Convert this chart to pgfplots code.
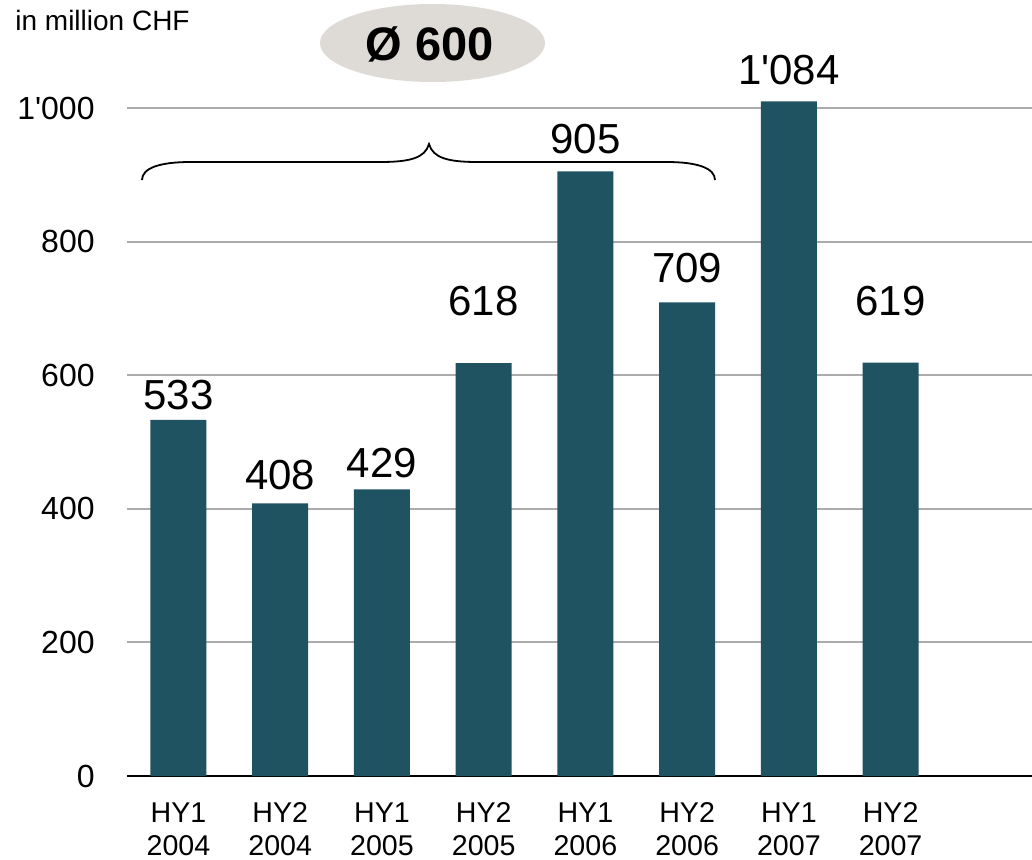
\documentclass[border=0pt]{standalone}
\usepackage{fontspec}
\setmainfont{Liberation Sans}[Ligatures=TeXOff]
\usepackage{pgfplots}
\pgfplotsset{compat=1.18}
\definecolor{barcol}{RGB}{31,83,98}
\definecolor{ovalcol}{RGB}{222,219,214}
\begin{document}
\begin{tikzpicture}
\useasboundingbox (0pt,0pt) rectangle (516pt,-429.5pt);
\begin{axis}[
  at={(63.5pt,-388pt)}, anchor=south west,
  scale only axis, width=452.5pt, height=337.35pt,
  xmin=-0.506, xmax=8.39, ymin=0, ymax=1010,
  restrict y to domain*=0:1010,
  clip=false,
  axis lines*=left,
  y axis line style={draw=none},
  x axis line style={black, line width=1pt},
  major tick length=0pt,
  ymajorgrids,
  grid style={color=gray!65, line width=1pt},
  xtick={0,...,7},
  xticklabels={{HY1\\2004},{HY2\\2004},{HY1\\2005},{HY2\\2005},{HY1\\2006},{HY2\\2006},{HY1\\2007},{HY2\\2007}},
  xticklabel style={align=center, inner sep=0pt, yshift=-13.3pt, font=\fontsize{14.3pt}{16.5pt}\selectfont},
  ytick={0,200,400,600,800,1000},
  yticklabels={0,200,400,600,800,1'000},
  yticklabel style={inner sep=0pt, xshift=-16pt, font=\fontsize{16pt}{18pt}\selectfont},
  ybar, bar width=28pt,
  nodes near coords,
  point meta=explicit symbolic,
  visualization depends on={\thisrow{off}\as\myoff},
  every node near coord/.append style={inner sep=0pt, yshift=\myoff*1pt, font=\fontsize{21pt}{25pt}\selectfont, text=black},
]
\addplot[fill=barcol, draw=none] table[x=x, y=y, meta=label] {
x y label off
0 533 533 5
1 408 408 6.75
2 429 429 5.5
3 618 618 23.5
4 905 905 8.5
5 709 709 9.5
6 1084 1'084 8
7 619 619 23
};
\end{axis}
\begin{scope}[x=0.5pt, y=-0.5pt]
\node[anchor=base west, inner sep=0pt, font=\fontsize{14pt}{16pt}\selectfont] at (15,30) {in million CHF};
\fill[ovalcol] (432.5,43) ellipse [x radius=112.5, y radius=39];
\node[inner sep=0pt, font=\fontsize{23.5pt}{27pt}\selectfont\bfseries] at (430,44.5) {Ø 600};
\draw[line width=0.9pt, black] (142,180) .. controls (142,168) and (160,162) .. (190,162) -- (380,162) .. controls (410,162) and (425,158) .. (429,144) .. controls (433,158) and (448,162) .. (478,162) -- (667,162) .. controls (697,162) and (715,168) .. (715,180);
\end{scope}
\end{tikzpicture}
\end{document}
